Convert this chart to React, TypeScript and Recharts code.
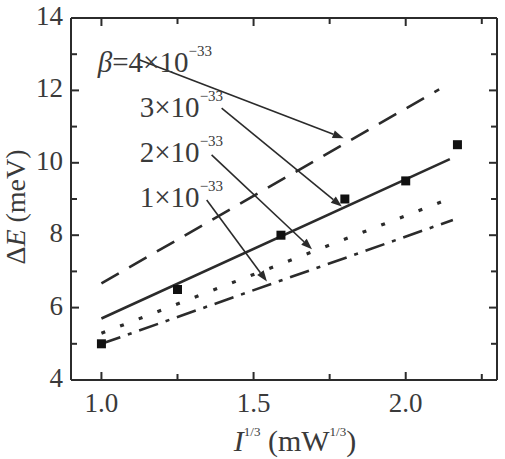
import React from "react";
import {
  ComposedChart,
  Line,
  Scatter,
  XAxis,
  YAxis,
  ReferenceLine,
  ReferenceDot,
  Label,
} from "recharts";

// measured points: I^(1/3) vs ΔE
const measX = [1.0, 1.25, 1.59, 1.8, 2.0, 2.17];
const measY = [5.0, 6.5, 8.0, 9.0, 9.5, 10.5];

// fitted lines (end points) for each β
const beta4X = [1.0, 2.11];
const beta4Y = [6.67, 12.03];
const beta3X = [1.0, 2.145];
const beta3Y = [5.7, 10.1];
const beta2X = [1.0, 2.12];
const beta2Y = [5.29, 8.93];
const beta1X = [1.0, 2.155];
const beta1Y = [5.0, 8.42];

const xDomain = [0.9, 2.3];
const yDomain = [4, 14];
const xTicks = [1.0, 1.25, 1.5, 1.75, 2.0, 2.25];
const yTicks = [4, 5, 6, 7, 8, 9, 10, 11, 12, 13, 14];

// annotation labels
const labelText = ["4×10", "3×10", "2×10", "1×10"];
const labelX = [0.988, 1.126, 1.126, 1.126];
const labelY = [12.52, 11.27, 10.03, 8.79];

// arrows: start -> end
const arrowX1 = [1.126, 1.395, 1.362, 1.346];
const arrowY1 = [12.84, 11.51, 10.22, 8.97];
const arrowX2 = [1.796, 1.79, 1.692, 1.544];
const arrowY2 = [10.68, 8.79, 7.61, 6.72];

const zip = (xs: number[], ys: number[]) => xs.map((x, i) => ({ x, y: ys[i] }));
const measured = zip(measX, measY);
const beta4 = zip(beta4X, beta4Y);
const beta3 = zip(beta3X, beta3Y);
const beta2 = zip(beta2X, beta2Y);
const beta1 = zip(beta1X, beta1Y);
const arrowSegs = arrowX1.map((x1, i) => [
  { x: x1, y: arrowY1[i] },
  { x: arrowX2[i], y: arrowY2[i] },
]);

const FONT = "'Liberation Serif', 'Times New Roman', serif";
const INK = "#2b2b2b";
const TXT = "#3a3a3a";
const W = 505;
const H = 459;

const isMajor = (v: number, step: number) =>
  Math.abs(v / step - Math.round(v / step)) < 1e-6;

// ---- tick marks (frame layer) ----
const BottomMark = (props: any) => {
  const { x, y, payload } = props;
  const len = isMajor(payload.value, 0.5) ? 8 : 6;
  return <path d={`M${x},${y}L${x},${y - len}`} stroke={INK} strokeWidth={2} fill="none" />;
};
const TopMark = (props: any) => {
  const { x, y, payload } = props;
  const len = isMajor(payload.value, 0.5) ? 8 : 6;
  return <path d={`M${x},${y}L${x},${y + len}`} stroke={INK} strokeWidth={2} fill="none" />;
};
const LeftMark = (props: any) => {
  const { x, y, payload } = props;
  const len = isMajor(payload.value, 2) ? 8 : 6;
  return <path d={`M${x},${y}L${x + len},${y}`} stroke={INK} strokeWidth={2} fill="none" />;
};
const RightMark = (props: any) => {
  const { x, y, payload } = props;
  const len = isMajor(payload.value, 2) ? 8 : 6;
  return <path d={`M${x},${y}L${x - len},${y}`} stroke={INK} strokeWidth={2} fill="none" />;
};

// ---- tick labels (data layer) ----
const BottomLabel = (props: any) => {
  const { x, y, payload } = props;
  if (!isMajor(payload.value, 0.5)) return <g />;
  return (
    <text x={x} y={y + 32} textAnchor="middle" fontFamily={FONT} fontSize={27} fill={TXT}>
      {payload.value.toFixed(1)}
    </text>
  );
};
const LeftLabel = (props: any) => {
  const { x, y, payload } = props;
  if (!isMajor(payload.value, 2)) return <g />;
  return (
    <text x={x - 8} y={y + 7} textAnchor="end" fontFamily={FONT} fontSize={27} fill={TXT}>
      {payload.value}
    </text>
  );
};

const AxisTitles = (props: any) => {
  const { viewBox } = props;
  const w = viewBox.width ?? viewBox.upperWidth ?? 426;
  const cx = viewBox.x + w / 2 + 11;
  const bx = 25;
  const cy = 207;
  return (
    <g>
      <text x={cx} y={451} textAnchor="middle" fontFamily={FONT} fontSize={30} fill={TXT}>
        <tspan fontStyle="italic">I</tspan>
        <tspan fontSize={13} dy={-15}>1/3</tspan>
        <tspan dy={15}> (mW</tspan>
        <tspan fontSize={13} dy={-15}>1/3</tspan>
        <tspan dy={15}>)</tspan>
      </text>
      <text
        x={bx}
        y={cy}
        transform={`rotate(-90 ${bx} ${cy})`}
        textAnchor="middle"
        fontFamily={FONT}
        fontSize={28}
        fill={TXT}
      >
        Δ<tspan fontStyle="italic">E</tspan> (meV)
      </text>
    </g>
  );
};

const Arrow = (props: any) => {
  const { x1, y1, x2, y2 } = props;
  const ang = Math.atan2(y2 - y1, x2 - x1);
  const len = 11;
  const w = 4;
  const bx = x2 - len * Math.cos(ang);
  const by = y2 - len * Math.sin(ang);
  const px = -Math.sin(ang) * w;
  const py = Math.cos(ang) * w;
  return (
    <g>
      <line x1={x1} y1={y1} x2={bx} y2={by} stroke={INK} strokeWidth={1.6} />
      <polygon points={`${x2},${y2} ${bx + px},${by + py} ${bx - px},${by - py}`} fill={INK} />
    </g>
  );
};

const labelShapes = labelText.map((t, i) => (props: any) => {
  const { cx, cy } = props;
  return (
    <text x={cx} y={cy} fontFamily={FONT} fontSize={29} fill={TXT}>
      {i === 0 ? <tspan fontStyle="italic">β</tspan> : null}
      {i === 0 ? "=" : ""}
      {t}
      <tspan fontSize={15} dy={-16}>−33</tspan>
    </text>
  );
});

const Square = (props: any) => {
  const { cx, cy } = props;
  return <rect x={cx - 4.5} y={cy - 4.5} width={9} height={9} fill="#111" />;
};

const axisLineStyle = { stroke: INK, strokeWidth: 2 };
const layer: React.CSSProperties = { position: "absolute", left: 0, top: 0 };

// the box with inward ticks on all four sides
function Frame() {
  return (
    <ComposedChart width={W} height={H} margin={{ top: 17, right: 7, left: 0, bottom: 0 }}>
      <XAxis xAxisId="b" type="number" dataKey="x" domain={xDomain} ticks={xTicks} interval={0}
        height={79} tickSize={0} tickMargin={0} tickLine={false} tick={<BottomMark />}
        axisLine={axisLineStyle} />
      <XAxis xAxisId="t" orientation="top" type="number" dataKey="x" domain={xDomain} ticks={xTicks}
        interval={0} height={1} tickSize={0} tickMargin={0} tickLine={false} tick={<TopMark />}
        axisLine={axisLineStyle} />
      <YAxis yAxisId="l" type="number" domain={yDomain} ticks={yTicks} interval={0} width={71}
        tickSize={0} tickMargin={0} tickLine={false} tick={<LeftMark />} axisLine={axisLineStyle} />
      <YAxis yAxisId="r" orientation="right" type="number" domain={yDomain} ticks={yTicks} interval={0}
        width={1} tickSize={0} tickMargin={0} tickLine={false} tick={<RightMark />}
        axisLine={axisLineStyle} />
      <Scatter xAxisId="t" yAxisId="r" data={measured} dataKey="y" fill="none" isAnimationActive={false} />
      <Scatter xAxisId="b" yAxisId="l" data={measured} dataKey="y" fill="none" isAnimationActive={false} />
    </ComposedChart>
  );
}

// data, tick labels, titles and annotations
function Plot() {
  return (
    <ComposedChart width={W} height={H} margin={{ top: 18, right: 8, left: 0, bottom: 0 }}>
      <XAxis xAxisId="b" type="number" dataKey="x" domain={xDomain} ticks={xTicks} interval={0}
        height={79} tickSize={0} tickMargin={0} tickLine={false} tick={<BottomLabel />}
        axisLine={false}>
        <Label content={AxisTitles} />
      </XAxis>
      <YAxis yAxisId="l" type="number" domain={yDomain} ticks={yTicks} interval={0} width={71}
        tickSize={0} tickMargin={0} tickLine={false} tick={<LeftLabel />} axisLine={false} />

      <Line xAxisId="b" yAxisId="l" data={beta4} dataKey="y" type="linear" stroke={INK}
        strokeWidth={2.6} strokeDasharray="20 12" dot={false} isAnimationActive={false} />
      <Line xAxisId="b" yAxisId="l" data={beta3} dataKey="y" type="linear" stroke={INK}
        strokeWidth={2.6} dot={false} isAnimationActive={false} />
      <Line xAxisId="b" yAxisId="l" data={beta2} dataKey="y" type="linear" stroke={INK}
        strokeWidth={3.2} strokeDasharray="4 16" dot={false} isAnimationActive={false} />
      <Line xAxisId="b" yAxisId="l" data={beta1} dataKey="y" type="linear" stroke={INK}
        strokeWidth={2.6} strokeDasharray="20 8 4 8" dot={false} isAnimationActive={false} />
      <Scatter xAxisId="b" yAxisId="l" data={measured} dataKey="y" shape={Square}
        isAnimationActive={false} />

      {arrowSegs.map((seg, i) => (
        <ReferenceLine key={`a${i}`} xAxisId="b" yAxisId="l" segment={seg} shape={Arrow} />
      ))}
      {labelX.map((x, i) => (
        <ReferenceDot key={`l${i}`} xAxisId="b" yAxisId="l" x={x} y={labelY[i]} r={0}
          shape={labelShapes[i]} />
      ))}
    </ComposedChart>
  );
}

export default function App() {
  return (
    <div style={{ position: "absolute", left: 0, top: 0, width: W, height: H, background: "#fff" }}>
      <div style={layer}>
        <Plot />
      </div>
      <div style={layer}>
        <Frame />
      </div>
    </div>
  );
}
